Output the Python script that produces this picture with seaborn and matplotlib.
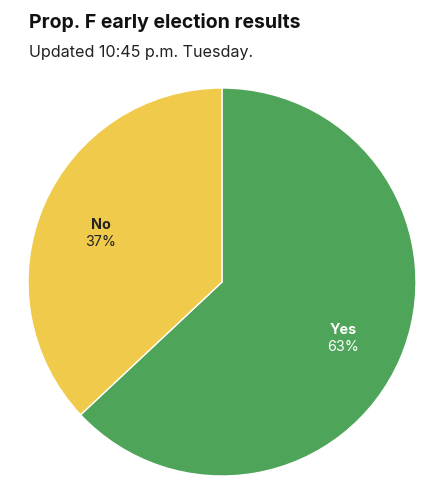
import matplotlib
matplotlib.use("Agg")
import matplotlib.pyplot as plt
import seaborn as sns
import numpy as np

categories = ["Yes", "No"]
values = [63, 37]
colors = ["#4ea458", "#f0cb4b"]
text_colors = ["white", "#222222"]

sns.set_theme(style="white")
plt.rcParams['font.family'] = ['Inter', 'DejaVu Sans']

fig = plt.figure(figsize=(4.44, 5.0), dpi=100)
ax = fig.add_axes([28/444, 24/500, 388/444, 388/500])

wedges, _ = ax.pie(values, colors=colors, startangle=90, counterclock=False,
                   wedgeprops=dict(edgecolor="white", linewidth=1))
ax.set_aspect("equal")
ax.set_xlim(-1, 1)
ax.set_ylim(-1, 1)
ax.axis("off")

for w, cat, v, tc in zip(wedges, categories, values, text_colors):
    ang = np.deg2rad((w.theta1 + w.theta2) / 2)
    r = 0.68
    x, y = r * np.cos(ang), r * np.sin(ang) - 0.02
    ax.text(x, y + 0.045, cat, ha="center", va="center", fontsize=10.3,
            fontweight="bold", color=tc)
    ax.text(x, y - 0.045, f"{v}%", ha="center", va="center", fontsize=10.3,
            color=tc)

fig.text(29/444, 1 - 23/500, "Prop. F early election results", fontsize=14,
         fontweight="bold", color="#111111", ha="left", va="center")
fig.text(29/444, 1 - 52/500, "Updated 10:45 p.m. Tuesday.", fontsize=11.6,
         color="#222222", ha="left", va="center")

fig.savefig("out.png", dpi=100)
